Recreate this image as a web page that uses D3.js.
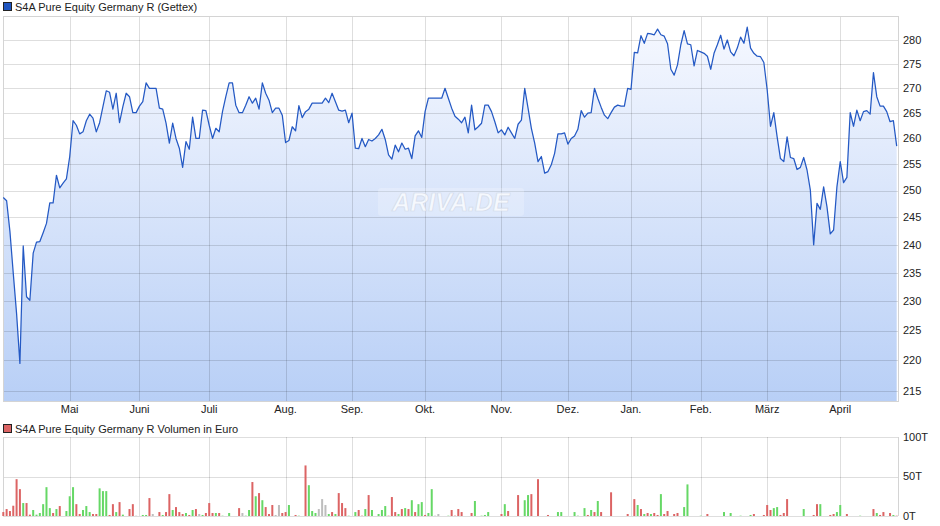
<!DOCTYPE html>
<html>
<head>
<meta charset="utf-8">
<script src="https://cdn.jsdelivr.net/npm/d3@7"></script>
<style>
  html, body { margin: 0; padding: 0; background: #fff; }
  svg { display: block; font-family: "Liberation Sans", Arial, sans-serif; }
</style>
</head>
<body>
<svg id="chart" width="940" height="526"></svg>
<script>
// ---------- DATA ----------
const priceTitle = "S4A Pure Equity Germany R (Gettex)";
const volumeTitle = "S4A Pure Equity Germany R Volumen in Euro";

// daily closing prices (one per trading day)
const prices = [
248.7, 248.1, 242.4, 234.9, 227.9, 219.5, 239.8, 230.8, 230.2, 238.5,
240.5, 240.6, 242.2, 243.9, 247.7, 247.7, 252.9, 250.5, 251.4, 252.2,
256.5, 263.5, 262.6, 260.9, 261.3, 263.5, 264.8, 264.0, 261.3, 263.1,
266.3, 269.5, 269.2, 265.8, 269.0, 263.1, 266.3, 269.0, 268.3, 265.1,
265.1, 266.4, 267.3, 271.1, 270.0, 270.0, 270.0, 266.0, 265.8, 263.0,
259.1, 263.0, 260.0, 258.1, 254.4, 259.4, 257.9, 264.2, 260.0, 260.0,
265.6, 265.5, 262.6, 260.0, 262.0, 261.3, 265.3, 268.3, 271.1, 271.1,
266.6, 265.1, 265.1, 266.6, 268.3, 267.0, 268.0, 265.8, 271.1, 269.0,
267.6, 265.1, 266.0, 266.0, 264.6, 259.2, 259.6, 262.3, 261.5, 266.5,
264.1, 265.3, 265.8, 267.0, 267.0, 267.0, 267.0, 268.0, 267.1, 269.0,
267.3, 265.6, 265.4, 265.6, 263.1, 265.0, 258.1, 258.0, 260.0, 258.4,
259.8, 259.5, 260.0, 260.7, 261.8, 259.8, 256.8, 256.0, 258.7, 257.4,
259.1, 257.9, 258.1, 256.1, 260.5, 261.5, 260.2, 265.3, 268.0, 268.0,
268.0, 268.0, 268.0, 270.0, 268.0, 266.0, 264.4, 263.8, 263.1, 264.2,
261.1, 266.6, 261.7, 262.3, 263.0, 266.6, 266.6, 265.3, 263.3, 261.1,
261.7, 260.7, 262.2, 261.1, 260.0, 262.8, 263.6, 270.0, 266.0, 262.0,
259.1, 255.5, 256.5, 253.3, 253.6, 254.9, 257.1, 260.9, 260.9, 261.1,
258.9, 260.0, 260.5, 261.8, 265.5, 264.2, 265.0, 265.1, 270.0, 268.0,
266.2, 264.6, 263.9, 265.1, 266.2, 266.6, 266.4, 266.4, 270.0, 269.8,
277.4, 277.3, 280.9, 279.3, 281.4, 281.3, 281.1, 282.3, 281.1, 280.8,
279.2, 273.9, 272.7, 274.8, 279.0, 282.0, 279.2, 279.0, 274.6, 277.8,
277.5, 277.2, 276.6, 273.9, 277.2, 279.0, 281.0, 278.1, 280.0, 277.5,
276.7, 278.3, 280.6, 279.3, 282.7, 278.3, 277.2, 276.6, 276.5, 275.3,
269.7, 262.4, 265.1, 260.3, 256.1, 255.5, 260.3, 256.3, 256.1, 254.0,
254.4, 256.3, 253.9, 250.1, 240.0, 247.6, 246.5, 250.7, 247.0, 242.0,
242.7, 250.7, 255.5, 251.5, 252.5, 265.1, 262.4, 265.6, 263.5, 265.3,
265.5, 264.8, 273.2, 268.3, 266.4, 266.4, 265.3, 263.3, 263.5, 258.5
];

// month labels and the trading-day index where each month starts
const monthLabels = ["Mai", "Juni", "Juli", "Aug.", "Sep.", "Okt.", "Nov.", "Dez.", "Jan.", "Feb.", "März", "April"];
const monthStartIndex = [20, 41, 62, 85, 105, 127, 150, 170, 189, 210, 230, 252];

// price axis ticks
const priceTicks = [215, 220, 225, 230, 235, 240, 245, 250, 255, 260, 265, 270, 275, 280];

// volume (thousand euro): trading-day index, value, trend (u = up, d = down, n = unchanged)
const volIndex = [
  0,1,2,3,4,5,6,7,8,9,
  10,11,12,13,14,15,16,17,19,20,
  21,22,23,24,25,26,27,28,29,30,
  31,32,33,34,35,36,38,39,40,42,
  43,44,45,47,48,49,50,51,52,53,
  54,55,56,57,58,59,60,61,62,63,
  64,65,66,68,71,72,73,74,75,76,
  77,78,79,80,81,82,83,84,85,86,
  88,89,91,92,93,94,95,96,97,98,
  99,100,101,102,103,104,106,107,108,109,
  110,111,113,114,115,116,117,118,119,120,
  121,122,123,124,125,126,127,128,129,130,
  131,134,135,136,137,138,141,142,144,145,
  146,150,151,152,155,157,158,159,161,164,
  167,168,172,173,175,176,177,178,179,180,
  183,188,190,191,192,193,194,195,196,197,
  198,199,200,202,203,205,206,210,212,217,
  219,222,225,226,229,230,231,232,233,234,
  235,236,241,244,245,246,249,250,251,252,
  254,258,262,263,264,265,267,268,269
];
const volValue = [
  5,8.8,6.3,13,46.6,34,16.4,16.4,1.7,7.6,
  1.7,3.8,15,36.5,10,3.8,8.8,12.6,6.3,25,
  36.5,15,2.5,7.6,12.6,5,2.5,2.5,35,31.5,
  31.5,1.3,15,5,17.6,1.7,8.8,15,0.4,1.3,
  1.3,22.7,2.5,5,1.3,5,27.7,7.6,11.3,5,
  2.5,3.8,1.3,7.6,8.8,2.5,1.3,3.8,16.4,3.8,
  3.8,3.8,0.4,3.8,10,3.8,0.4,7.6,43,25,
  29,20,11.3,2.5,13.9,1.3,13.9,3.8,5,13.9,
  1.3,0.4,64,39,6.3,3.8,8.8,21.4,13.9,2.5,
  5,2.5,29,16.4,10,0.4,5,7.6,0.4,8.8,
  26.5,7.6,2.5,7.6,12.6,0.4,24,5,2.5,8.8,
  10,8.8,20,5,15,17.6,1.3,3.8,34,0.4,
  2.5,0.4,7.6,0.4,8.8,5,3.8,19,0.4,1.3,
  5,2.5,15,6.3,26.5,20,26.5,27.7,46.6,1.3,
  5,5,5,0.4,10,1.3,7.6,5,19,5,
  30,2.5,21.4,13.9,8.8,2.5,3.8,2.5,3.8,1.3,
  27.7,2.5,6.3,2.5,3.8,11.3,40,0.4,2.5,5,
  3.8,0.4,1.3,2.5,1.3,13.9,7.6,10,11.3,1.3,
  3.8,21.4,8.8,1.3,15,15,1.3,2.5,5,13.9,
  2.5,0.4,8.8,3.8,1.3,5,3.8,1.3,0.4
];
const volTrend = [
  "d","d","d","d","d","d","u","d","d","u",
  "u","u","u","u","u","d","u","d","u","u",
  "u","d","d","u","u","u","d","d","u","u",
  "u","d","d","u","d","u","d","d","n","u",
  "u","d","n","d","u","d","d","u","d","d",
  "d","u","d","u","d","n","u","d","d","d",
  "u","d","u","u","d","n","u","u","d","u",
  "d","u","d","d","d","n","n","d","d","u",
  "d","u","d","u","u","u","n","n","n","u",
  "d","u","d","d","d","u","u","d","d","u",
  "d","u","u","u","u","d","d","d","u","d",
  "u","d","u","d","u","u","d","u","u","n",
  "n","u","d","d","d","d","d","u","u","u",
  "u","d","u","d","d","u","u","d","d","d",
  "u","u","u","u","u","d","u","d","u","d",
  "d","d","d","u","d","u","d","u","d","d",
  "u","d","d","d","d","u","u","u","d","u",
  "u","u","u","d","d","d","d","u","u","d",
  "d","d","u","d","d","u","d","d","u","u",
  "d","u","d","u","d","d","d","u","d"
];
const volTicks = [0, 50, 100];
const volTickLabels = ["0T", "50T", "100T"];

// ---------- LAYOUT ----------
const svg = d3.select("#chart");
const L = 3, R = 898;
const pTop = 16, pBottom = 401;
const vTop = 437, vBottom = 516;

const x = d3.scaleLinear().domain([0, prices.length - 1]).range([3.3, 896.7]);
const y = d3.scaleLog().domain([213.39, 285.1]).range([pBottom, pTop]);
const yv = d3.scaleLinear().domain([0, 100]).range([vBottom, vTop]);

const defs = svg.append("defs");
const grad = defs.append("linearGradient").attr("id", "fillGrad")
  .attr("gradientUnits", "userSpaceOnUse").attr("x1", 0).attr("x2", 0).attr("y1", pTop).attr("y2", pBottom);
grad.append("stop").attr("offset", "0%").attr("stop-color", "#f7f9ff");
grad.append("stop").attr("offset", "100%").attr("stop-color", "#b8cff6");

// ---------- PRICE CHART ----------
const area = d3.area().x((d, i) => x(i)).y0(pBottom).y1(d => y(d));
svg.append("path").datum(prices).attr("d", area).attr("fill", "url(#fillGrad)");

const grid = svg.append("g").attr("stroke", "#000").attr("stroke-opacity", 0.13).attr("stroke-width", 1).attr("shape-rendering", "crispEdges");
grid.selectAll("line.h").data(priceTicks).join("line")
  .attr("x1", L).attr("x2", R).attr("y1", d => Math.round(y(d)) + 0.5).attr("y2", d => Math.round(y(d)) + 0.5);
grid.selectAll("line.v").data(monthStartIndex).join("line")
  .attr("x1", d => Math.round(x(d)) + 0.5).attr("x2", d => Math.round(x(d)) + 0.5).attr("y1", pTop).attr("y2", pBottom);
svg.append("rect").attr("x", L + 0.5).attr("y", pTop + 0.5).attr("width", R - L).attr("height", pBottom - pTop)
  .attr("fill", "none").attr("stroke", "#d4d4d4").attr("shape-rendering", "crispEdges");

// watermark
svg.append("rect").attr("x", 378).attr("y", 188).attr("width", 146).attr("height", 28).attr("rx", 3)
  .attr("fill", "#ffffff").attr("fill-opacity", 0.22);
svg.append("text").attr("x", 451).attr("y", 211).attr("text-anchor", "middle")
  .attr("font-size", 25).attr("font-style", "italic").attr("font-weight", "bold")
  .attr("fill", "#ffffff").attr("fill-opacity", 0.7).attr("stroke", "#d3dbe9").attr("stroke-width", 0.7)
  .text("ARIVA.DE");

const line = d3.line().x((d, i) => x(i)).y(d => y(d));
svg.append("path").datum(prices).attr("d", line).attr("fill", "none")
  .attr("stroke", "#2459c4").attr("stroke-width", 1.25).attr("stroke-linejoin", "round");

svg.append("g").selectAll("text").data(priceTicks).join("text")
  .attr("x", 903).attr("y", d => y(d)).attr("dy", "0.35em")
  .attr("font-size", 11).attr("fill", "#222").text(d => d);

svg.append("g").selectAll("text").data(monthStartIndex).join("text")
  .attr("x", d => x(d)).attr("y", 413).attr("text-anchor", "middle")
  .attr("font-size", 11).attr("fill", "#222").text((d, i) => monthLabels[i]);

svg.append("rect").attr("x", 3.5).attr("y", 2.5).attr("width", 8).attr("height", 8)
  .attr("fill", "#1f55c0").attr("stroke", "#222").attr("stroke-width", 1);
svg.append("text").attr("x", 15).attr("y", 10.5).attr("font-size", 11).attr("fill", "#222").text(priceTitle);

// ---------- VOLUME CHART ----------
const vgrid = svg.append("g").attr("stroke", "#000").attr("stroke-opacity", 0.13).attr("shape-rendering", "crispEdges");
vgrid.selectAll("line.h").data(volTicks).join("line")
  .attr("x1", L).attr("x2", R).attr("y1", d => Math.round(yv(d)) + 0.5).attr("y2", d => Math.round(yv(d)) + 0.5);
vgrid.selectAll("line.v").data(monthStartIndex).join("line")
  .attr("x1", d => Math.round(x(d)) + 0.5).attr("x2", d => Math.round(x(d)) + 0.5).attr("y1", vTop).attr("y2", vBottom);
svg.append("line").attr("x1", L + 0.5).attr("x2", L + 0.5).attr("y1", vTop).attr("y2", vBottom)
  .attr("stroke", "#d4d4d4").attr("shape-rendering", "crispEdges");
svg.append("line").attr("x1", R + 0.5).attr("x2", R + 0.5).attr("y1", vTop).attr("y2", vBottom)
  .attr("stroke", "#d4d4d4").attr("shape-rendering", "crispEdges");

const trendColor = { u: "#66d866", d: "#dc6464", n: "#bdbdbd" };
svg.append("g").selectAll("rect").data(volIndex).join("rect")
  .attr("x", d => x(d) - 1).attr("width", 2)
  .attr("y", (d, i) => yv(volValue[i])).attr("height", (d, i) => vBottom - yv(volValue[i]))
  .attr("fill", (d, i) => trendColor[volTrend[i]] || "#bdbdbd");

svg.append("g").selectAll("text").data(volTicks).join("text")
  .attr("x", 903).attr("y", d => yv(d)).attr("dy", "0.35em")
  .attr("font-size", 11).attr("fill", "#222").text((d, i) => volTickLabels[i]);

svg.append("rect").attr("x", 3.5).attr("y", 424.5).attr("width", 8).attr("height", 8)
  .attr("fill", "#dc6464").attr("stroke", "#222").attr("stroke-width", 1);
svg.append("text").attr("x", 15).attr("y", 432.5).attr("font-size", 11).attr("fill", "#222").text(volumeTitle);
</script>
</body>
</html>
